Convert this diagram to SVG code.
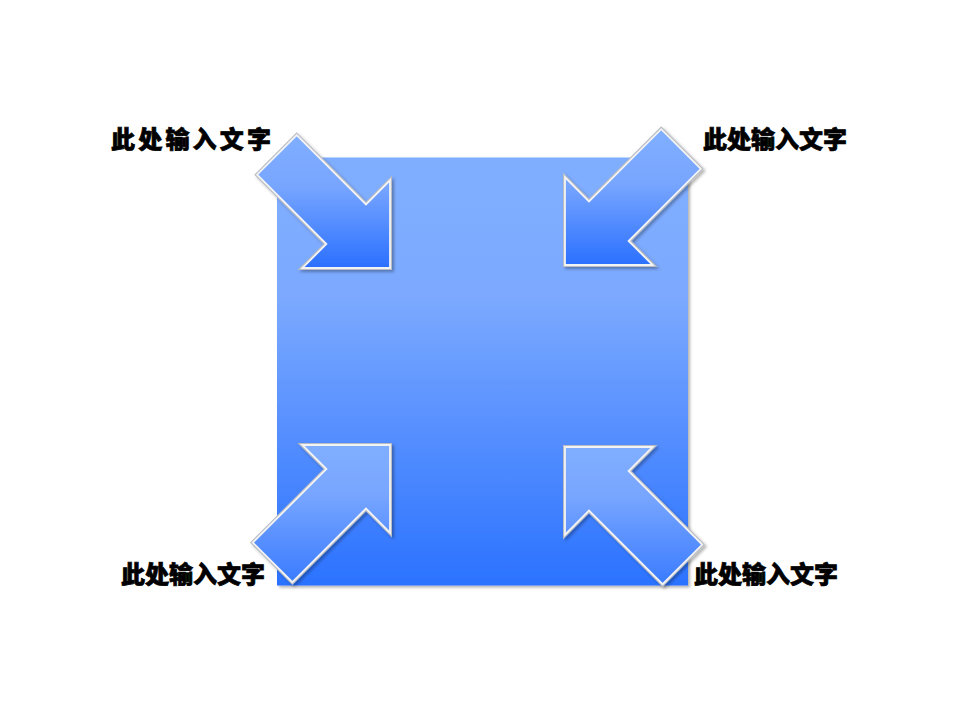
<svg xmlns="http://www.w3.org/2000/svg" width="960" height="720" viewBox="0 0 960 720">
  <defs>
    <linearGradient id="gSq" x1="0" y1="0" x2="0" y2="1">
      <stop offset="0" stop-color="#80AEFF"/>
      <stop offset="0.33" stop-color="#7BA9FF"/>
      <stop offset="1" stop-color="#2B72FF"/>
    </linearGradient>
    <linearGradient id="gTL" gradientUnits="userSpaceOnUse" x1="0" y1="131" x2="0" y2="268">
      <stop offset="0" stop-color="#80AEFF"/>
      <stop offset="0.4" stop-color="#78A6FF"/>
      <stop offset="1" stop-color="#2B70FF"/>
    </linearGradient>
    <linearGradient id="gTR" gradientUnits="userSpaceOnUse" x1="0" y1="129" x2="0" y2="265">
      <stop offset="0" stop-color="#80AEFF"/>
      <stop offset="0.4" stop-color="#78A6FF"/>
      <stop offset="1" stop-color="#2B70FF"/>
    </linearGradient>
    <linearGradient id="gBL" gradientUnits="userSpaceOnUse" x1="0" y1="445" x2="0" y2="583">
      <stop offset="0" stop-color="#80AEFF"/>
      <stop offset="0.35" stop-color="#78A6FF"/>
      <stop offset="1" stop-color="#3A7BFF"/>
    </linearGradient>
    <linearGradient id="gBR" gradientUnits="userSpaceOnUse" x1="0" y1="447" x2="0" y2="585">
      <stop offset="0" stop-color="#80AEFF"/>
      <stop offset="0.35" stop-color="#78A6FF"/>
      <stop offset="1" stop-color="#3A7BFF"/>
    </linearGradient>
    <filter id="shadow" x="-10%" y="-10%" width="120%" height="120%">
      <feDropShadow dx="2" dy="2" stdDeviation="1.5" flood-color="#000" flood-opacity="0.3"/>
    </filter>
  </defs>
  <style>
    .edge { fill: none; stroke: #b9bcc2; stroke-width: 4; stroke-linejoin: miter; }
    .arrow { stroke: #f2f3f5; stroke-width: 1.8; stroke-linejoin: miter; }
    .label { font-family: "Noto Sans CJK SC", "Noto Sans", sans-serif; font-size: 24px; font-weight: 900; fill: #000; stroke: #000; stroke-width: 0.7; }
  </style>

  <rect width="960" height="720" fill="#fff"/>

  <g id="square">
    <rect x="277" y="157.5" width="411" height="428" fill="url(#gSq)" filter="url(#shadow)"/>
  </g>

  <g id="arrows">
    <g id="arrow-tl" filter="url(#shadow)">
      <polygon class="edge" points="390,268 390,180.3 366,204.4 296.7,135.1 257.1,174.7 326.4,244 302.3,268"/>
      <polygon class="arrow" fill="url(#gTL)" points="390,268 390,180.3 366,204.4 296.7,135.1 257.1,174.7 326.4,244 302.3,268"/>
    </g>
    <g id="arrow-tr" filter="url(#shadow)">
      <polygon class="edge" points="565,265 652.7,265 628.6,241 700.8,168.8 661.2,129.2 589,201.4 565,177.3"/>
      <polygon class="arrow" fill="url(#gTR)" points="565,265 652.7,265 628.6,241 700.8,168.8 661.2,129.2 589,201.4 565,177.3"/>
    </g>
    <g id="arrow-bl" filter="url(#shadow)">
      <polygon class="edge" points="390,445 302.3,445 326.4,469 252.8,542.6 292.4,582.2 366,508.6 390,532.7"/>
      <polygon class="arrow" fill="url(#gBL)" points="390,445 302.3,445 326.4,469 252.8,542.6 292.4,582.2 366,508.6 390,532.7"/>
    </g>
    <g id="arrow-br" filter="url(#shadow)">
      <polygon class="edge" points="565,447 565,534.7 589,510.6 662.6,584.2 702.2,544.6 628.6,471 652.7,447"/>
      <polygon class="arrow" fill="url(#gBR)" points="565,447 565,534.7 589,510.6 662.6,584.2 702.2,544.6 628.6,471 652.7,447"/>
    </g>
  </g>

  <g id="labels">
    <text id="label-tl" class="label" x="111" y="148" textLength="160" lengthAdjust="spacing">此处输入文字</text>
    <text id="label-tr" class="label" x="703" y="148">此处输入文字</text>
    <text id="label-bl" class="label" x="121" y="583">此处输入文字</text>
    <text id="label-br" class="label" x="694" y="583">此处输入文字</text>
  </g>
</svg>
